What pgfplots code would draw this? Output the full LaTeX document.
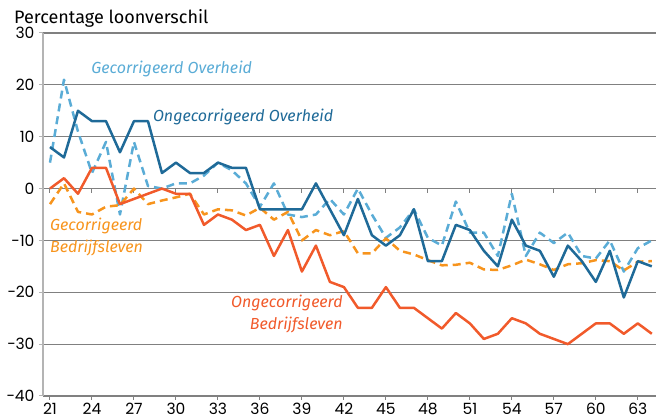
\documentclass[border=0pt]{standalone}
\usepackage{pgfplots}
\pgfplotsset{compat=1.18}
\usepackage{pgfplotstable}
\usepackage{fontspec}
\setmainfont{Fira Sans}
\newfontfamily\tickfont{Poppins}
\definecolor{darkblue}{HTML}{1F6A98}
\definecolor{lightblue}{HTML}{5AACD6}
\definecolor{redorange}{HTML}{F15A2B}
\definecolor{lightorange}{HTML}{F7941D}
\definecolor{gridgray}{HTML}{808080}
\definecolor{axisgray}{HTML}{B4B4B4}

\pgfplotstableread{
age ongov gecov ongbd gecbd
21 8 5 0 -3
22 6 21 2 1
23 15 11 -1 -4.5
24 13 3 4 -5
25 13 9 4 -3.5
26 7 -5 -3 -3.2
27 13 9 -2 0
28 13 0.5 -1 -3
29 3 0 0 -2.3
30 5 1 -1 -1.7
31 3 1 -1 -1
32 3 2.5 -7 -5
33 5 5 -5 -4
34 4 3.5 -6 -4.2
35 4 1 -8 -5.2
36 -4 -3.5 -7 -3.7
37 -4 1 -13 -6
38 -4 -5 -8 -4.5
39 -4 -5.5 -16 -10
40 1 -5 -11 -8
41 -4 -2 -18 -9
42 -9 -5 -19 -8.2
43 -2 0 -23 -12.5
44 -9 -5 -23 -12.5
45 -11 -9.5 -19 -9.6
46 -9 -7.5 -23 -12
47 -4 -4 -23 -12.7
48 -14 -9.5 -25 -13.8
49 -14 -11 -27 -14.8
50 -7 -2.5 -24 -14.7
51 -8 -8.5 -26 -14.3
52 -12 -8.5 -29 -15.6
53 -15 -13 -28 -15.7
54 -6 -1 -25 -14.8
55 -11 -13 -26 -13.7
56 -12 -8.5 -28 -14.6
57 -17 -10.5 -29 -15.7
58 -11 -8.5 -30 -14.6
59 -14 -13 -28 -14.4
60 -18 -13.5 -26 -13.8
61 -12 -10 -26 -14
62 -21 -16 -28 -15.8
63 -14 -11.5 -26 -14.1
64 -15 -10 -28 -14
}\datatable

\begin{document}
\begin{tikzpicture}
\useasboundingbox (-43pt,-23pt) rectangle (613pt,396pt);
\begin{axis}[
  at={(0pt,0pt)}, anchor=south west,
  scale only axis, width=613pt, height=363pt,
  xmin=20.5, xmax=64.3, ymin=-40, ymax=30,
  axis x line=bottom, axis y line=left,
  axis line style={-},
  x axis line style={gridgray, line width=1.2pt},
  y axis line style={axisgray, line width=2.2pt},
  xtick={21,24,...,63},
  xticklabels={21,24,27,30,33,36,39,42,45,48,51,54,57,60,63},
  ytick={-40,-30,...,30},
  yticklabels={−40,−30,−20,−10,0,10,20,30},
  tick align=outside,
  major tick length=4pt,
  x tick style={gridgray, line width=1pt},
  y tick style={axisgray, line width=1pt},
  ymajorgrids,
  grid style={gridgray, line width=1.2pt},
  ticklabel style={font=\tickfont\fontsize{15.5}{15.5}\selectfont, text=black},
  xticklabel style={yshift=0pt},
  yticklabel style={xshift=-1pt},
  every axis plot/.append style={line width=2.5pt, line join=round},
  clip=true,
]
\pgfplotsinvokeforeach{21,24,...,63}{
  \draw[gridgray, line width=1pt] (axis cs:#1,0) -- ([yshift=-4pt]axis cs:#1,0);
}
\addplot[lightblue, dash pattern=on 8pt off 5pt] table[x=age,y=gecov]{\datatable};
\addplot[lightorange, dash pattern=on 8pt off 5pt] table[x=age,y=gecbd]{\datatable};
\addplot[darkblue] table[x=age,y=ongov]{\datatable};
\addplot[redorange] table[x=age,y=ongbd]{\datatable};

\node[lightblue, font=\itshape\fontsize{16}{16}\selectfont] at (axis cs:29.7,23.1) {Gecorrigeerd Overheid};
\node[darkblue, font=\itshape\fontsize{16}{16}\selectfont] at (axis cs:34.8,13.8) {Ongecorrigeerd Overheid};
\node[lightorange, font=\itshape\fontsize{16}{22}\selectfont, align=left, anchor=west, inner sep=0pt] at (axis cs:21.0,-9.4) {Gecorrigeerd\\Bedrijfsleven};
\node[redorange, font=\itshape\fontsize{16}{22}\selectfont, align=right, anchor=east, inner sep=0pt] at (axis cs:41.93,-24.1) {Ongecorrigeerd\\Bedrijfsleven};
\end{axis}
\node[anchor=west, inner sep=0pt, font=\fontsize{18}{18}\selectfont] at (-29pt,378pt) {Percentage loonverschil};
\end{tikzpicture}
\end{document}
